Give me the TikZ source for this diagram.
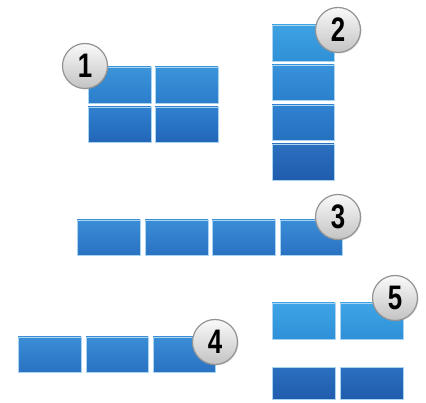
\documentclass[tikz,border=0pt]{standalone}
\usepackage{fontspec}
\setmainfont{Liberation Sans}
\usetikzlibrary{shadows}
\definecolor{edgeblue}{HTML}{A8D4F2}
\definecolor{circfill}{HTML}{D9D9D9}
\definecolor{circedge}{HTML}{939393}
\definecolor{aT}{HTML}{3B94DA}\definecolor{aB}{HTML}{2C7DCB}
\definecolor{bT}{HTML}{3080CF}\definecolor{bB}{HTML}{2366B8}
\definecolor{c1T}{HTML}{3DA2E2}\definecolor{c1B}{HTML}{3090D6}
\definecolor{c2T}{HTML}{3892DA}\definecolor{c2B}{HTML}{2B80CC}
\definecolor{c3T}{HTML}{3082D0}\definecolor{c3B}{HTML}{2670C0}
\definecolor{c4T}{HTML}{2B70C0}\definecolor{c4B}{HTML}{205CAD}
\definecolor{mT}{HTML}{3A8DD7}\definecolor{mB}{HTML}{2A72C2}
\definecolor{lT}{HTML}{3EA5E6}\definecolor{lB}{HTML}{2F90D8}
\tikzset{
  blk/.style={draw=edgeblue, line width=0.7pt},
  badge/.style={circle, draw=circedge, line width=1.2pt, inner sep=0pt,
    minimum size=45pt, top color=white!85!circfill, bottom color=circfill!90!black,
    font=\fontsize{34}{34}\bfseries, drop shadow={opacity=0.25, shadow xshift=1pt, shadow yshift=-1pt}}
}
% #1 x1, #2 y1 (top, pixels from top), #3 x2, #4 y2, #5 top colour, #6 bottom colour
\newcommand\blkrect[6]{\shade[blk, top color=#5, bottom color=#6] (#1,402-#2) rectangle (#3,402-#4);}
\newcommand\digit[1]{\scalebox{0.76}[1]{#1}}
\begin{document}
\begin{tikzpicture}[x=1pt,y=1pt]
\useasboundingbox (0,0) rectangle (426,402);
\fill[white] (0,0) rectangle (426,402);
% group 1
\blkrect{88}{67}{151}{103}{aT}{aB}
\blkrect{155}{67}{218}{103}{aT}{aB}
\blkrect{88}{107}{151}{142}{bT}{bB}
\blkrect{155}{107}{218}{142}{bT}{bB}
\node[badge] (c1) at (85,402-66) {\digit{1}};
% group 2
\blkrect{272}{25}{334}{61}{c1T}{c1B}
\blkrect{272}{65}{334}{100}{c2T}{c2B}
\blkrect{272}{105}{334}{140}{c3T}{c3B}
\blkrect{272}{144}{334}{180}{c4T}{c4B}
\node[badge] (c2) at (338,402-30) {\digit{2}};
% group 3
\blkrect{77}{220}{140}{255}{mT}{mB}
\blkrect{145}{220}{208}{255}{mT}{mB}
\blkrect{212}{220}{275}{255}{mT}{mB}
\blkrect{280}{220}{342}{255}{mT}{mB}
\node[badge] (c3) at (338,402-217) {\digit{3}};
% group 4
\blkrect{18}{337}{81}{372}{mT}{mB}
\blkrect{86}{337}{148}{372}{mT}{mB}
\blkrect{153}{337}{215}{372}{mT}{mB}
\node[badge] (c4) at (215,402-342) {\digit{4}};
% group 5
\blkrect{272}{303}{335}{339}{lT}{lB}
\blkrect{340}{303}{403}{339}{lT}{lB}
\blkrect{272}{367}{335}{399}{c4T}{c4B}
\blkrect{340}{367}{403}{399}{c4T}{c4B}
\node[badge] (c5) at (395,402-298) {\digit{5}};
\end{tikzpicture}
\end{document}
